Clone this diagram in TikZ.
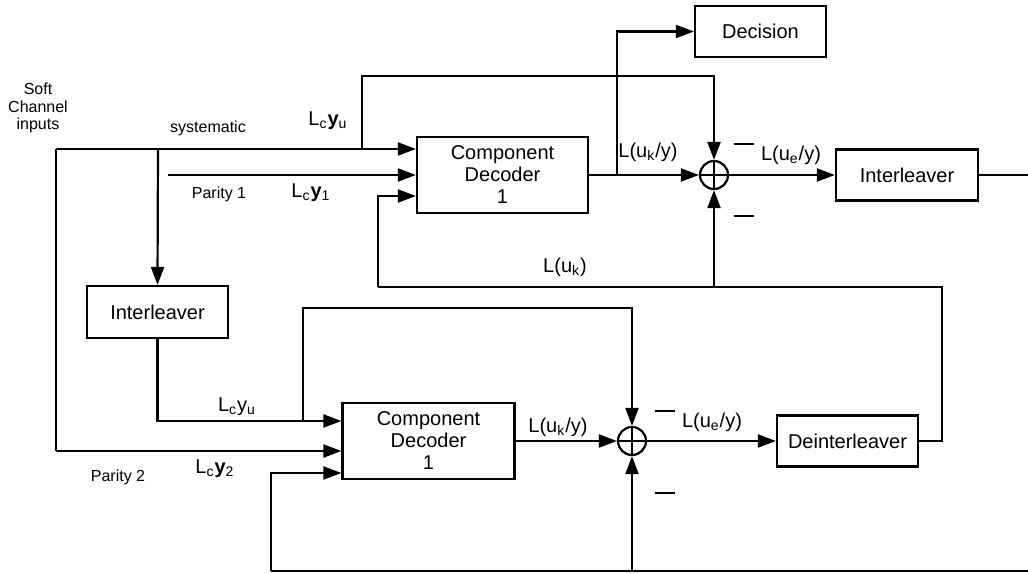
\documentclass[tikz,border=0pt]{standalone}
\usepackage{fontspec}
\setmainfont{Liberation Sans}
\usetikzlibrary{arrows.meta}
\begin{document}
\begin{tikzpicture}[x=0.5pt,y=-0.5pt,
  blk/.style={draw, line width=1.1pt, inner sep=0pt, align=center, font=\fontsize{10}{11}\selectfont},
  sumnode/.style={draw, circle, minimum size=14pt, inner sep=0pt, line width=1.1pt},
  lbl/.style={font=\fontsize{10}{11}\selectfont, inner sep=0pt},
  sml/.style={font=\fontsize{8}{8.8}\selectfont, inner sep=0pt, align=center},
  conn/.style={line width=1.1pt},
  arr/.style={conn, -{Triangle[length=9pt,width=6.5pt]}},
  minus/.style={inner sep=0pt}]
\useasboundingbox (0,0) rectangle (1028,573);

% blocks
\node[blk, minimum width=85.5pt, minimum height=38pt] (dec1) at (502.5,175) {Component\\Decoder\\1};
\node[blk, minimum width=65.5pt, minimum height=25.5pt] (decis) at (760.5,31.5) {Decision};
\node[sumnode] (s1) at (714,175) {};
\node[blk, minimum width=71pt, minimum height=25.5pt] (int1) at (907,175) {Interleaver};
\node[blk, minimum width=70.5pt, minimum height=26pt] (int2) at (157.5,312) {Interleaver};
\node[blk, minimum width=86pt, minimum height=38pt] (dec2) at (428.5,441) {Component\\Decoder\\1};
\node[sumnode] (s2) at (632,441) {};
\node[blk, minimum width=70.5pt, minimum height=25.5pt] (deint) at (847.5,441) {Deinterleaver};

% plus signs inside the summing nodes
\draw[conn] (s1.north) -- (s1.south) (s1.west) -- (s1.east);
\draw[conn] (s2.north) -- (s2.south) (s2.west) -- (s2.east);

% coordinates
\coordinate (jL) at (56,149);
\coordinate (jI) at (158,149);
\coordinate (jU) at (362,149);
\coordinate (p1) at (168,175);
\coordinate (fb1) at (378,196);
\coordinate (fbT) at (378,287);
\coordinate (jS1) at (714,287);
\coordinate (fbR) at (942,287);
\coordinate (jD) at (617,175);
\coordinate (top1) at (362,76);
\coordinate (jL2) at (56,451);
\coordinate (j2) at (303,421);
\coordinate (top2) at (303,308);
\coordinate (fb2) at (271,473);
\coordinate (bot2) at (271,571);
\coordinate (jS2) at (632,571);
\coordinate (botR) at (1028,571);
\coordinate (outR) at (1028,175);

% upper decoder connections
\draw[arr] (jL) -- (dec1.west |- jL);
\draw[conn] (jL) -- (jL2);
\draw[arr] (jL2) -- (dec2.west |- jL2);
\draw[arr] (jI) -- (int2.north);
\draw[arr] (p1) -- (dec1.west |- p1);
\draw[arr] (fbT) -- (fb1) -- (dec1.west |- fb1);
\draw[arr] (jU) -- (top1) -| (s1.north);
\draw[arr] (dec1.east) -- (s1.west);
\draw[arr] (jD) |- (decis.west);
\draw[arr] (s1.east) -- (int1.west);
\draw[conn] (int1.east) -- (outR);
\draw[conn] (deint.east) -| (fbR) -- (fbT);
\draw[arr] (jS1) -- (s1.south);

% lower decoder connections
\draw[arr] (int2.south) |- (dec2.west |- j2);
\draw[arr] (j2) -- (top2) -| (s2.north);
\draw[arr] (dec2.east) -- (s2.west);
\draw[arr] (s2.east) -- (deint.west);
\draw[conn] (botR) -- (bot2);
\draw[arr] (bot2) -- (fb2) -- (dec2.west |- fb2);
\draw[arr] (jS2) -- (s2.south);

% labels
\node[sml] (soft) at (38,108) {Soft\\Channel\\inputs};
\node[sml] (sys) at (208,128) {systematic};
\node[lbl] (lcyu1) at (328,121) {L\textsubscript{c}\textbf{y}\textsubscript{u}};
\node[sml] (par1) at (219,194) {Parity 1};
\node[lbl] (lcy1) at (311,193) {L\textsubscript{c}\textbf{y}\textsubscript{1}};
\node[lbl] (luky1) at (648,152) {L(u\textsubscript{k}/y)};
\node[lbl] (luey1) at (791,155) {L(u\textsubscript{e}/y)};
\node[lbl] (luk) at (565,267) {L(u\textsubscript{k})};
\node[minus] (m1a) at (743.5,144) {\rule{10pt}{1.1pt}};
\node[minus] (m1b) at (743.5,216) {\rule{10pt}{1.1pt}};
\node[lbl] (lcyu2) at (237,407) {L\textsubscript{c}y\textsubscript{u}};
\node[lbl] (lcy2) at (215,469) {L\textsubscript{c}\textbf{y}\textsubscript{2}};
\node[sml] (par2) at (118,477) {Parity 2};
\node[lbl] (luky2) at (558,427) {L(u\textsubscript{k}/y)};
\node[lbl] (luey2) at (712,422) {L(u\textsubscript{e}/y)};
\node[minus] (m2a) at (665,411) {\rule{10pt}{1.1pt}};
\node[minus] (m2b) at (665,493) {\rule{10pt}{1.1pt}};
\end{tikzpicture}
\end{document}
